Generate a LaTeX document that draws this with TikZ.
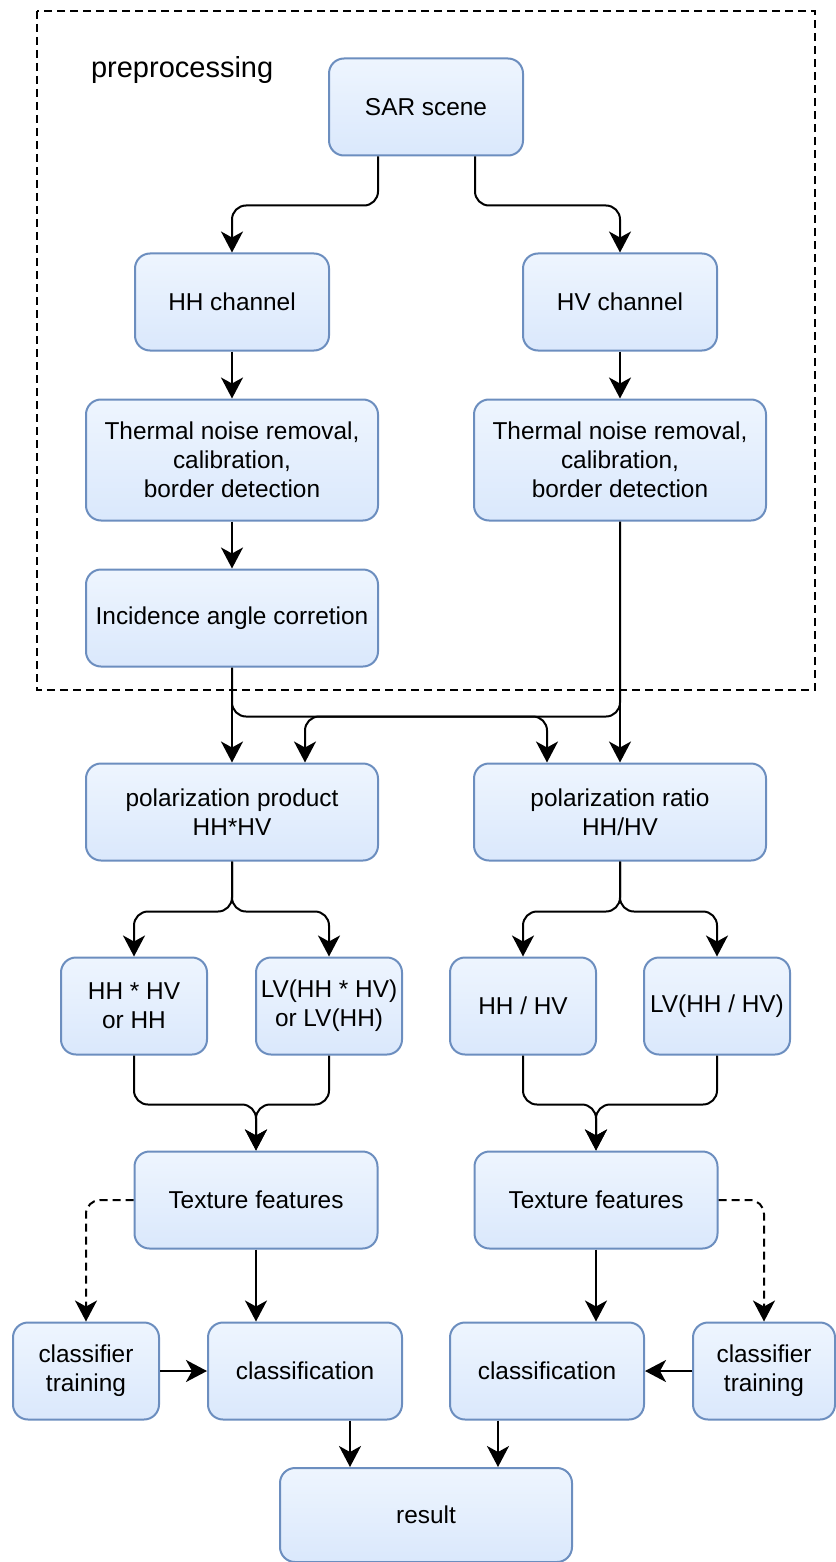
\documentclass[tikz,border=0pt]{standalone}
\usepackage{fontspec}
\setmainfont{Liberation Sans}
\usetikzlibrary{arrows.meta}
\definecolor{boxline}{HTML}{6C8EBF}
\definecolor{boxtop}{HTML}{EEF5FE}
\definecolor{boxbot}{HTML}{DAE8FC}
\tikzset{>={Stealth[length=10.5pt,width=11pt,inset=3pt]}}
\tikzset{
  box/.style = {draw=boxline, line width=1pt, rounded corners=7.5pt,
                top color=boxtop, bottom color=boxbot, align=center,
                inner sep=0pt, minimum height=48.5pt,
                font=\fontsize{12.2}{14.5}\selectfont},
  wide/.style = {box, minimum width=146pt},
  mid/.style = {box, minimum width=97pt},
  tex/.style = {box, minimum width=121.5pt},
  small/.style = {box, minimum width=73pt},
  flow/.style = {->, line width=1pt, rounded corners=7pt},
  train/.style = {flow, dashed, dash pattern=on 4pt off 2.5pt}
}

\begin{document}
\begin{tikzpicture}[x=0.5pt, y=-0.5pt]
    \useasboundingbox (0,0) rectangle (835,1562);
    % preprocessing frame
    \draw [line width=1pt, dash pattern=on 4pt off 2.5pt] (37,11) rectangle (815,690);
    \node [anchor=west, font=\fontsize{14.5}{17}\selectfont] (pre) at (84,70) {preprocessing};

    \node [mid] (sar) at (426,107) {SAR scene};
    \node [mid] (hh) at (232,302) {HH channel};
    \node [mid] (hv) at (620,302) {HV channel};
    \node [wide, minimum height=60.5pt] (thl) at (232,460) {Thermal noise removal,\\calibration,\\border detection};
    \node [wide, minimum height=60.5pt] (thr) at (620,460) {Thermal noise removal,\\calibration,\\border detection};
    \node [wide] (inc) at (232,618) {Incidence angle corretion};

    \node [wide] (prod) at (232,812) {polarization product\\HH*HV};
    \node [wide] (ratio) at (620,812) {polarization ratio\\HH/HV};

    \node [small] (hhhv) at (134,1006) {HH * HV\\or HH};
    \node [small] (lvprod) at (329,1006) {LV(HH * HV)\\or LV(HH)};
    \node [small] (hhdhv) at (523,1006) {HH / HV};
    \node [small] (lvratio) at (717,1006) {LV(HH / HV)};

    \node [tex] (texl) at (256,1200) {Texture features};
    \node [tex] (texr) at (596,1200) {Texture features};

    \node [small] (trainl) at (86,1371) {classifier\\training};
    \node [mid] (clsl) at (305,1371) {classification};
    \node [mid] (clsr) at (547,1371) {classification};
    \node [small, minimum width=71pt] (trainr) at (764,1371) {classifier\\training};
    \node [wide, minimum height=47pt] (res) at (426,1515) {result};

    % preprocessing chain
    \draw [flow] ([xshift=-24pt]sar.south) -- ++(0,49) -| (hh.north);
    \draw [flow] ([xshift=24.5pt]sar.south) -- ++(0,49) -| (hv.north);
    \draw [flow] (hh) -- (thl);
    \draw [flow] (hv) -- (thr);
    \draw [flow] (thl) -- (inc);

    % both channels into both combinations
    \draw [flow] (inc) -- (prod);
    \draw [flow] (thr) -- (ratio);
    \draw [flow] (inc.south) -- ++(0,49) -| ([xshift=-36.5pt]ratio.north);
    \draw [flow] (thr.south) -- ++(0,195) -| ([xshift=36.5pt]prod.north);

    % variants
    \draw [flow] (prod.south) -- ++(0,50) -| (hhhv.north);
    \draw [flow] (prod.south) -- ++(0,50) -| (lvprod.north);
    \draw [flow] (ratio.south) -- ++(0,50) -| (hhdhv.north);
    \draw [flow] (ratio.south) -- ++(0,50) -| (lvratio.north);

    \draw [flow] (hhhv.south) -- ++(0,49) -| (texl.north);
    \draw [flow] (lvprod.south) -- ++(0,49) -| (texl.north);
    \draw [flow] (hhdhv.south) -- ++(0,49) -| (texr.north);
    \draw [flow] (lvratio.south) -- ++(0,49) -| (texr.north);

    % classification
    \draw [flow] (texl) -- (texl |- clsl.north);
    \draw [flow] (texr) -- (texr |- clsr.north);
    \draw [train] (texl.west) -| (trainl.north);
    \draw [train] (texr.east) -| (trainr.north);
    \draw [flow] (trainl) -- (clsl);
    \draw [flow] (trainr) -- (clsr);

    \draw [flow] ([xshift=22.5pt]clsl.south) -- ([xshift=22.5pt]clsl.south |- res.north);
    \draw [flow] ([xshift=-24.5pt]clsr.south) -- ([xshift=-24.5pt]clsr.south |- res.north);
\end{tikzpicture}
\end{document}
